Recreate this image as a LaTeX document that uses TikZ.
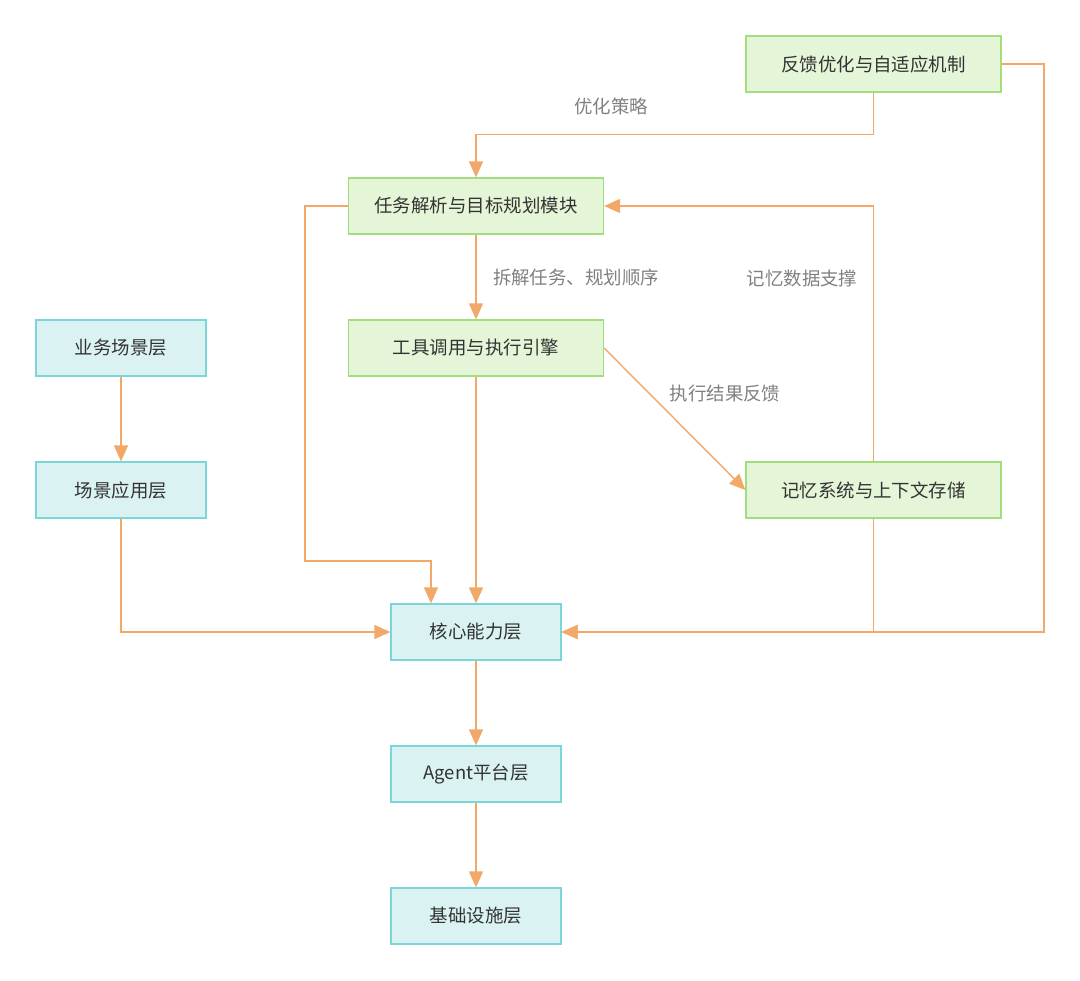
\documentclass[tikz,border=0pt]{standalone}
\usepackage{fontspec}
\setmainfont{Noto Sans CJK SC}
\usetikzlibrary{positioning,arrows.meta}
\definecolor{greenfill}{HTML}{E4F5D8}
\definecolor{greenline}{HTML}{A3DE7E}
\definecolor{tealfill}{HTML}{DAF3F2}
\definecolor{tealline}{HTML}{7AD6D8}
\definecolor{edgecol}{HTML}{F2A868}
\definecolor{labelcol}{HTML}{808080}
\definecolor{textcol}{HTML}{333333}
\begin{document}
\begin{tikzpicture}[x=0.02cm, y=-0.02cm,
	module/.style={rectangle, draw=greenline, fill=greenfill, line width=0.7pt, minimum width=5.1cm, minimum height=1.12cm, text=textcol, font=\fontsize{10.5}{12}\selectfont},
	layer/.style={rectangle, draw=tealline, fill=tealfill, line width=0.7pt, minimum width=3.4cm, minimum height=1.12cm, text=textcol, font=\fontsize{10.5}{12}\selectfont},
	lbl/.style={text=labelcol, font=\fontsize{10.5}{12}\selectfont},
	flow/.style={draw=edgecol, line width=0.8pt, -{Triangle[length=0.32cm, width=0.28cm]}}
	]
	\useasboundingbox (0,0) rectangle (1080,981);

	% modules
	\node (feedback) [module] at (873.5,64) {反馈优化与自适应机制};
	\node (planning) [module] at (476,206) {任务解析与目标规划模块};
	\node (toolexec) [module] at (476,348) {工具调用与执行引擎};
	\node (memory) [module] at (873.5,490) {记忆系统与上下文存储};

	% layers
	\node (business) [layer] at (121,348) {业务场景层};
	\node (sceneapp) [layer] at (121,490) {场景应用层};
	\node (core) [layer] at (476,632) {核心能力层};
	\node (platform) [layer] at (476,774) {Agent平台层};
	\node (infra) [layer] at (476,916) {基础设施层};

	% connectors
	\draw [flow] (feedback.south)--++(0,42)-| (planning.north);
	\node (optlbl) [lbl] at (611,106) {优化策略};
	\draw [flow] (feedback.east)-|(1044,632)-- (core.east);
	\draw [flow] (planning)-- node[lbl, right=6pt, pos=0.5] {拆解任务、规划顺序} (toolexec);
	\draw [flow] (planning.west)-|(305,561)-|([xshift=-45*0.02cm]core.north);
	\draw [flow] (toolexec)-- (core);
	\draw [flow] (toolexec.east)-- (memory.west);
	\node (resultlbl) [lbl] at (725,394) {执行结果反馈};
	\draw [flow] (memory.north)|-(planning.east);
	\node (memlbl) [lbl] at (802,279) {记忆数据支撑};
	\draw [flow] (memory.south)|-(core.east);
	\draw [flow] (business)-- (sceneapp);
	\draw [flow] (sceneapp.south)|-(core.west);
	\draw [flow] (core)-- (platform);
	\draw [flow] (platform)-- (infra);

\end{tikzpicture}
\end{document}
